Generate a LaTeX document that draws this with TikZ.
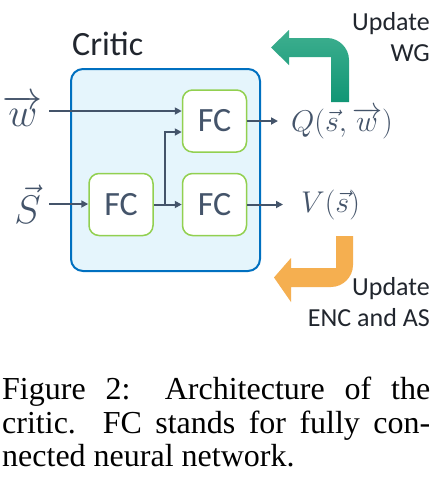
\RequirePackage{fix-cm}
\documentclass[tikz,border=0pt]{standalone}
\usepackage{amsmath}
\usepackage{fontspec}
\setmainfont{Liberation Serif}
\newfontfamily\calibri{Carlito}
\usetikzlibrary{positioning,arrows.meta}
\definecolor{criticBlue}{RGB}{0,112,192}
\definecolor{criticFill}{RGB}{229,245,252}
\definecolor{fcGreen}{RGB}{146,208,80}
\definecolor{slateGray}{RGB}{68,84,106}
\definecolor{wgGreenTop}{RGB}{62,175,143}
\definecolor{wgGreenBot}{RGB}{17,150,117}
\definecolor{encOrange}{RGB}{245,175,80}
\definecolor{textDark}{RGB}{33,38,46}

\begin{document}
\begin{tikzpicture}[x=1pt, y=-1pt,
    fcbox/.style={draw=fcGreen, line width=1.5pt, fill=white, rounded corners=10pt, minimum width=64pt, minimum height=62pt, font=\calibri\fontsize{34}{40}\selectfont, text=slateGray},
    arr/.style={-{Triangle[length=7pt,width=7pt]}, line width=2pt, draw=slateGray},
    mathlab/.style={text=slateGray, inner ysep=0pt},
    updlab/.style={font=\calibri\fontsize{26}{31}\selectfont, text=textDark, align=right, inner sep=0pt, anchor=north east}]
    \fill[white] (0,0) rectangle (441,480);
    \useasboundingbox (0,0) rectangle (441,480);
    % critic frame
    \node[draw=criticBlue, line width=2pt, fill=criticFill, rounded corners=12pt, minimum width=189pt, minimum height=202pt] (critic) at (165.5,170) {};
    \node[font=\calibri\fontsize{34}{40}\selectfont, text=textDark, anchor=base west, inner sep=0pt] (criticlab) at (72,55) {Critic};
    % fully connected layers
    \node[fcbox] (fcL) at (121,204.5) {FC};
    \node[fcbox, right=28pt of fcL] (fcR) {FC};
    \node[fcbox, above=20pt of fcR] (fcT) {FC};
    % inputs and outputs
    \node[mathlab, anchor=east, inner xsep=6pt, font=\fontsize{40}{48}\selectfont] (win) at (49,111) {$\overrightarrow{w}$};
    \node[mathlab, anchor=east, inner xsep=8pt, font=\fontsize{40}{48}\selectfont] (sin) at (49,204) {$\vec{S}$};
    \node[mathlab, anchor=west, inner xsep=13pt, font=\fontsize{30}{36}\selectfont] (qout) at (278,123) {$Q(\vec{s},\overrightarrow{w})$};
    \node[mathlab, anchor=west, inner xsep=18pt, font=\fontsize{30}{36}\selectfont] (vout) at (283,204.5) {$V(\vec{s})$};
    \coordinate (split) at ([xshift=11pt]fcL.east);
    \draw[arr] (win.east) -- (win.east -| fcT.west);
    \draw[arr] (sin.east) -- (sin.east -| fcL.west);
    \draw[arr] (fcL.east) -- (fcR.west);
    \draw[arr] (split) |- ([yshift=-11pt]fcT.west);
    \draw[arr] (fcT.east) -- (fcT.east -| qout.west);
    \draw[arr] (fcR.east) -- (fcR.east -| vout.west);
    % update arrows
    \shade[top color=wgGreenTop, bottom color=wgGreenBot] (331,102) -- (331,57) -- (289,57) -- (289,65) -- (271,47.5) -- (289,30) -- (289,38) -- (327,38) .. controls (339,38) and (349,48) .. (349,60) -- (349,102) -- cycle;
    \fill[encOrange] (336,236) -- (353,236) -- (353,265) .. controls (353,277) and (343,287) .. (331,287) -- (291,287) -- (291,302) -- (274,277.5) -- (291,258) -- (291,268) -- (336,268) -- cycle;
    \node[updlab] (updwg) at (430,12) {Update\\WG};
    \node[updlab] (updenc) at (430,277) {Update\\ENC and AS};
    % caption
    \node[anchor=north west, text width=428pt, align=justify, inner sep=0pt, font=\fontsize{32}{33.5}\selectfont] (caption) at (2,377) {Figure 2: Architecture of the\linebreak critic. FC stands for fully con-\linebreak nected neural network.};
\end{tikzpicture}
\end{document}
